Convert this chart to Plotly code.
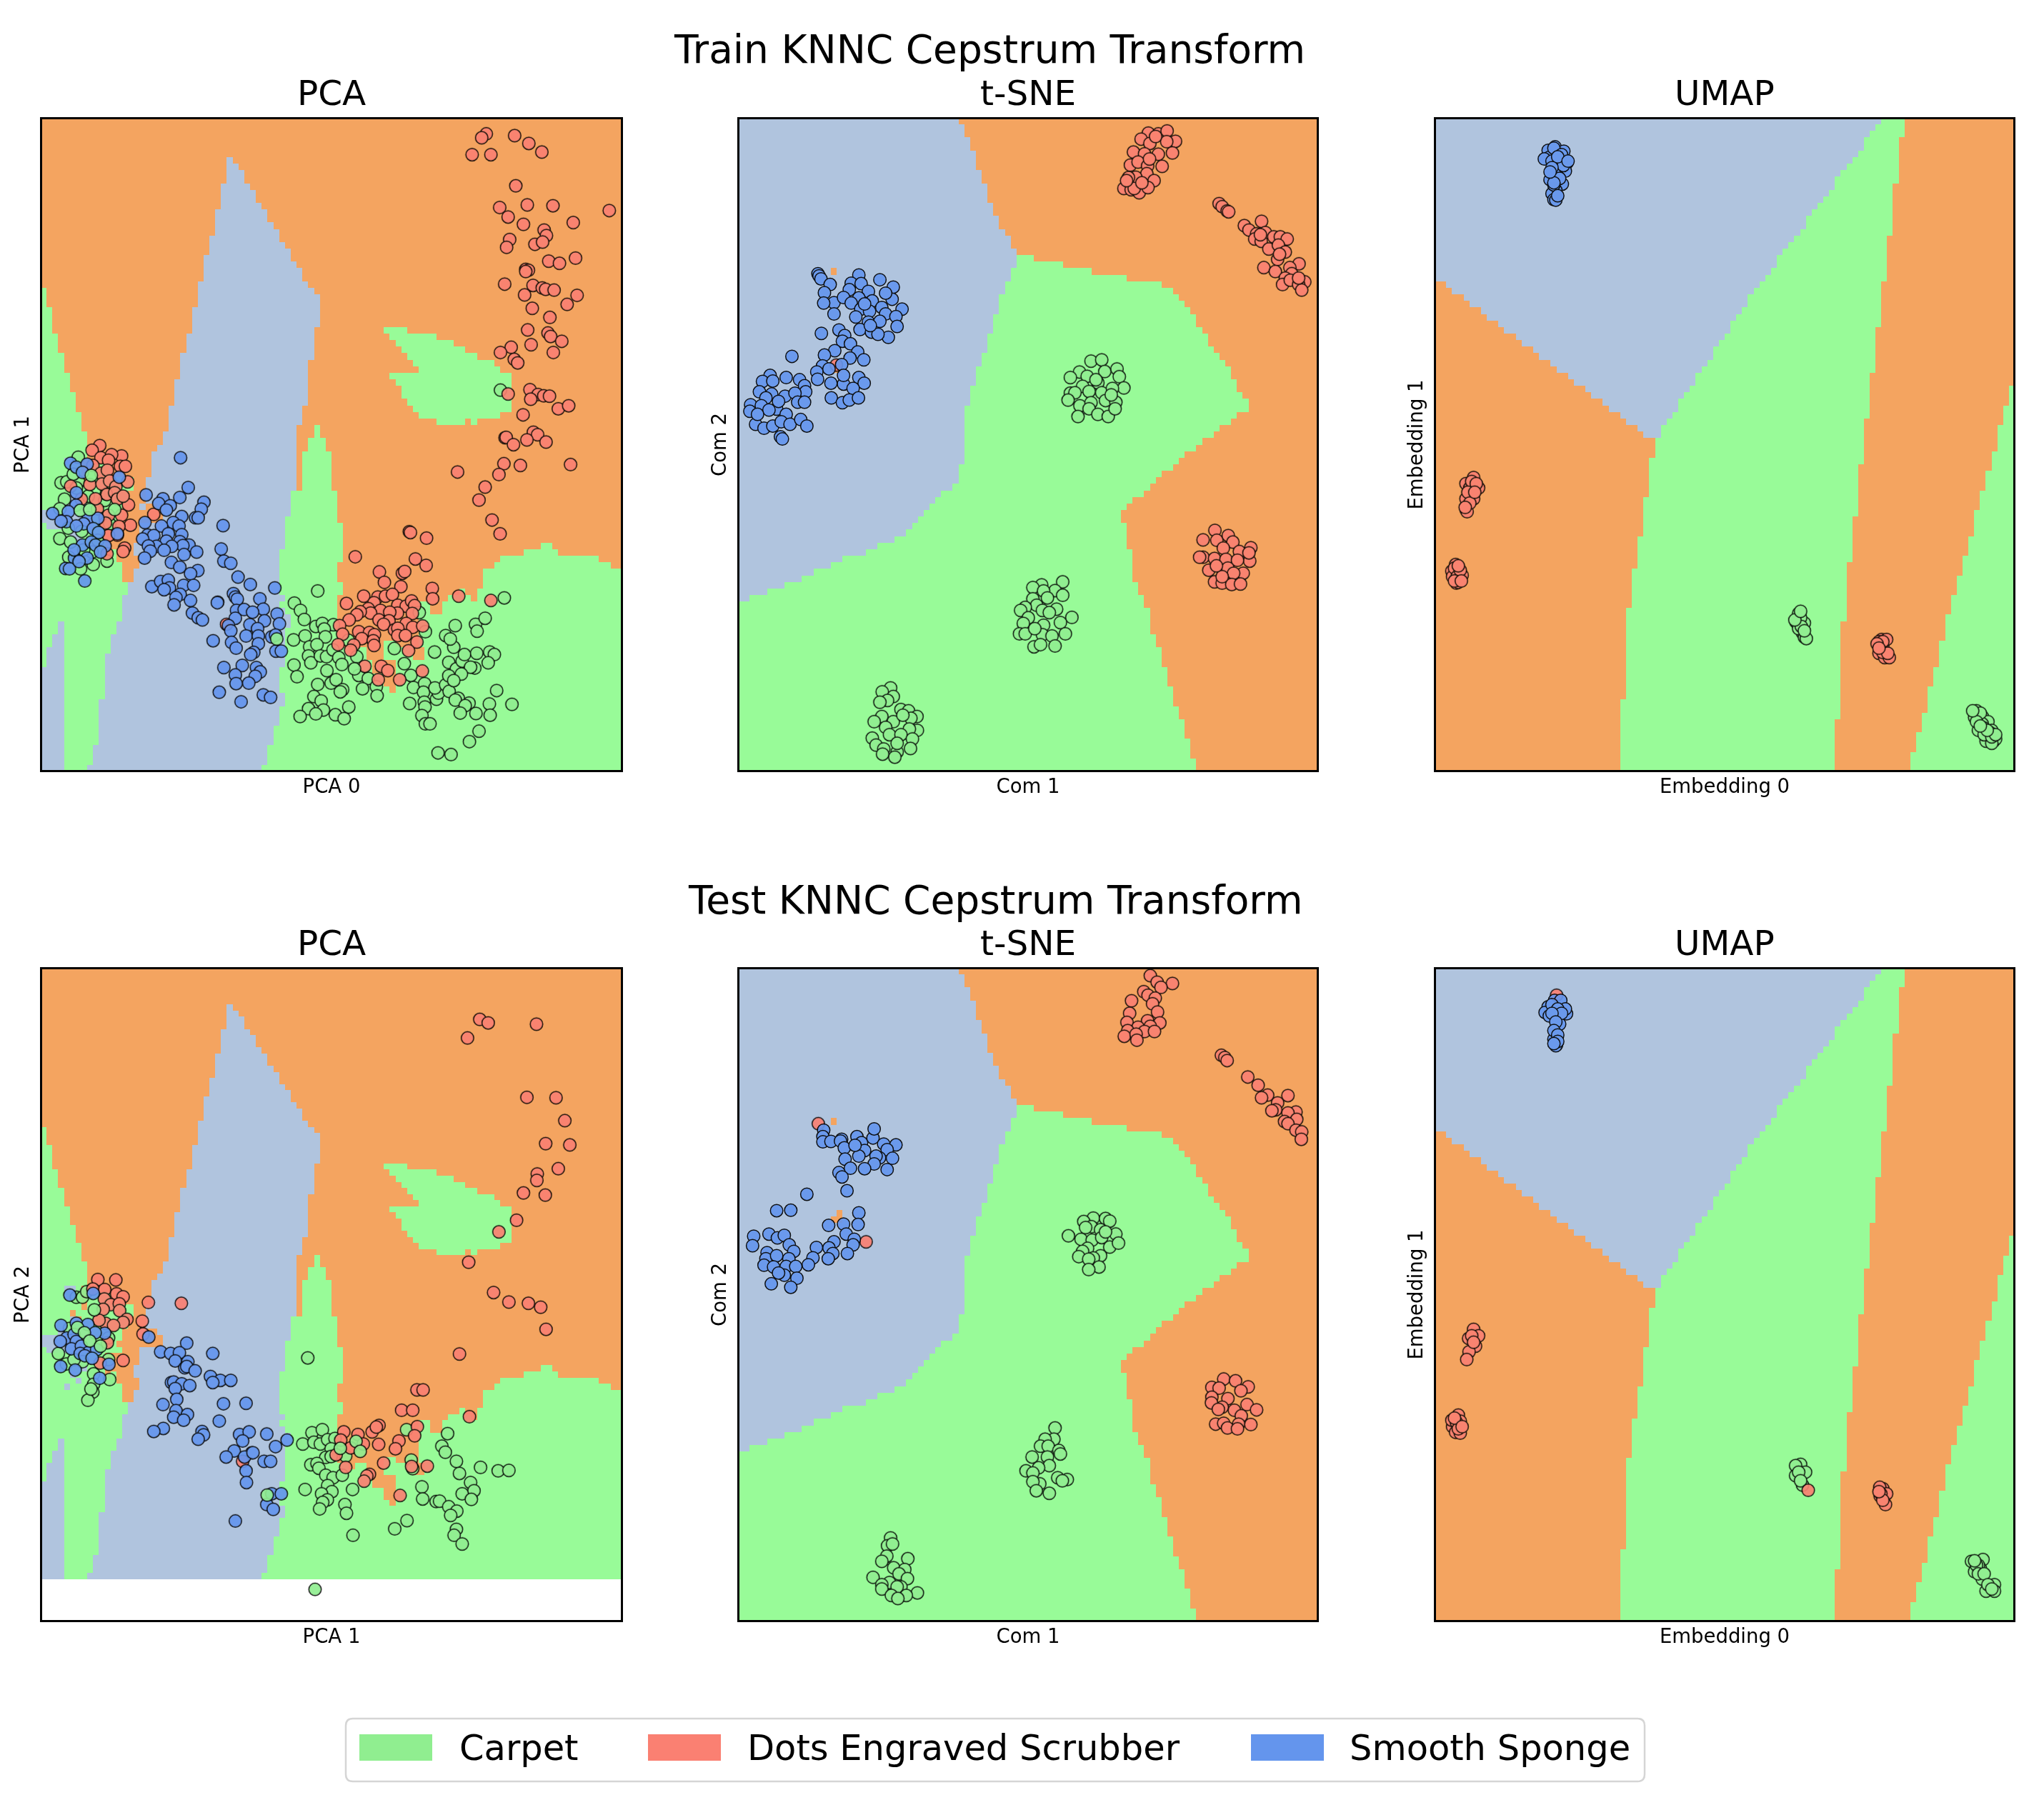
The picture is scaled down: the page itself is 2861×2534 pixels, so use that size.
import plotly.graph_objects as go
from plotly.subplots import make_subplots

# No ticks on the original axes, so values are plain read-off units of each panel.
CLASS_NAMES = ["Carpet", "Dots Engraved Scrubber", "Smooth Sponge"]
POINT_COLORS = ["#90EE90", "#FA8072", "#6495ED"]
REGION_COLORS = ["#98FB98", "#F4A460", "#B0C4DE"]

method_titles = ["PCA", "t-SNE", "UMAP"]
x_labels_train = ["PCA 0", "Com 1", "Embedding 0"]
y_labels_train = ["PCA 1", "Com 2", "Embedding 1"]
x_labels_test = ["PCA 1", "Com 1", "Embedding 0"]
y_labels_test = ["PCA 2", "Com 2", "Embedding 1"]
row_titles = ["Train KNNC Cepstrum Transform", "Test KNNC Cepstrum Transform"]

# decision regions, PCA: one string per mesh row, class letter + end column
pca_rows = (
    ["O100"] * 6
    + ["O32 B33 O100", "O32 B34 O100", "O32 B35 O100", "O32 B35 O100", "O31 B36 O100", "O31 B37 O100",
       "O31 B37 O100", "O31 B38 O100", "O30 B39 O100", "O30 B39 O100", "O30 B40 O100", "O30 B41 O100",
       "O29 B41 O100", "O29 B42 O100", "O29 B43 O100", "O28 B43 O100", "O28 B44 O100", "O28 B45 O100",
       "O28 B45 O100", "O27 B46 O100", "G1 O27 B47 O100", "G1 O27 B48 O100", "G1 O27 B48 O100",
       "G2 O26 B48 O100", "G2 O26 B48 O100", "G2 O26 B48 O100",
       "G2 O26 B47 O59 G63 O100", "G3 O25 B47 O60 G68 O100", "G3 O25 B47 O61 G71 O100",
       "G3 O25 B47 O62 G73 O100", "G4 O24 B47 O63 G75 O100", "G4 O24 B46 O64 G78 O100",
       "G4 O24 B46 O65 G79 O100", "G5 O24 B46 O60 G81 O100", "G5 O23 B46 O61 G81 O100",
       "G5 O23 B46 O62 G81 O100", "G6 O23 B46 O62 G81 O100", "G6 O23 B46 O63 G81 O100",
       "G6 O22 B45 O64 G81 O100", "G7 O22 B45 O65 G79 O100", "G7 O22 B45 O68 G73 O74 G75 O100",
       "G7 O22 B44 O47 G48 O100", "G8 O21 B44 O47 G48 O100", "G8 O21 B44 O46 G49 O100",
       "G8 O20 B44 O46 G49 O100", "G8 O19 B44 O45 G50 O100",
       "G4 B6 G7 O19 B44 O45 G50 O100", "G7 O8 G12 O19 B44 O45 G50 O100",
       "G7 O8 G12 O19 B44 O45 G50 O100", "G7 O8 G16 O18 B44 O45 G50 O100",
       "G5 O6 G16 O18 B44 O45 G50 O100", "G5 B6 O7 G15 O18 B43 G51 O100",
       "G5 B7 G15 O18 B43 G51 O100", "G3 B9 G14 O17 B18 O20 B43 G51 O100",
       "B9 G14 O21 B43 G51 O100", "B9 G13 O21 B42 G51 O100", "G1 B9 G14 O17 B42 G52 O100",
       "G5 B7 G11 O17 B42 G52 O100", "G5 B7 G11 O17 B42 G52 O100",
       "G7 B8 G11 O16 B42 G52 O86 G88 O100", "G5 B6 G11 O12 G13 O16 B41 G52 O83 G89 O100",
       "G6 B7 G13 O17 B41 G52 O79 G96 O100", "G4 B5 G14 O17 B41 G51 O78 G98 O100",
       "G14 O16 B41 G51 O76 G100", "G14 O16 B41 G51 O76 G100", "G15 B41 G52 O76 G100",
       "G15 B41 G52 O72 G73 O75 G100", "G14 B42 G51 O70 G74 O75 G100",
       "G14 B41 G51 O65 G67 O69 G100", "G14 B42 G51 O65 G67 O69 G100", "G14 B43 G51 O65 G100",
       "G3 B4 G13 B43 G51 O65 G100", "G3 B4 G13 B42 G51 O65 G100", "G2 B4 G12 B42 G51 O65 G100",
       "G2 B4 G12 B42 G51 O59 G61 O65 G100", "G1 B4 G12 B42 G53 O54 G56 O59 G64 O66 G100",
       "G1 B4 G11 B42 G56 O59 G64 O66 G100", "G1 B4 G11 B42 G57 O61 G100",
       "B4 G11 B41 G57 O61 G100", "B4 G11 B41 G59 O61 G100", "B4 G11 B41 G59 O61 G100",
       "B4 G11 B41 G60 O61 G100", "B4 G11 B42 G100", "B4 G10 B42 G100"]
    + ["B4 G10 B41 G100"] * 3
    + ["B4 G10 B40 G100"] * 3
    + ["B4 G9 B39 G100"] * 3
    + ["B4 G8 B38 G100"]
)

# decision regions, t-SNE: (first mesh row, column) steps of each boundary
tsne_blue_edge = [(0, 38), (1, 39), (3, 40), (5, 41), (8, 42), (10, 43), (13, 44), (15, 45), (17, 46), (18, 47),
                  (20, 48), (23, 47), (25, 46), (27, 45), (30, 44), (33, 43), (36, 42), (38, 41), (41, 40), (44, 39),
                  (53, 38), (56, 37), (57, 35), (58, 34), (59, 33), (60, 32), (61, 31), (62, 30), (63, 29), (64, 27),
                  (65, 24), (66, 22), (67, 18), (68, 16), (69, 13), (70, 11), (71, 8), (72, 5), (73, 2), (74, 0)]
tsne_green_right = [(0, 0), (21, 51), (22, 56), (23, 61), (24, 67), (25, 73), (26, 75), (27, 76), (28, 77), (29, 78),
                    (30, 79), (32, 80), (33, 81), (35, 82), (36, 83), (37, 84), (38, 85), (40, 86), (42, 87), (43, 88),
                    (45, 86), (46, 85), (47, 83), (48, 82), (49, 80), (50, 79), (51, 77), (52, 76), (53, 75), (54, 73),
                    (55, 72), (56, 71), (57, 70), (58, 68), (59, 67), (60, 66), (62, 67), (66, 68), (71, 69), (73, 70),
                    (75, 71), (79, 72), (81, 73), (84, 74), (87, 75), (90, 76), (92, 77), (95, 78), (98, 79)]
tsne_orange_cells = [(23, 16), (37, 17), (38, 16), (38, 17)]

# decision regions, UMAP
umap_orange_top = [(0, 25), (2, 26), (3, 27), (5, 28), (6, 29), (8, 30), (9, 31), (11, 32), (12, 33), (14, 34),
                   (15, 35), (17, 36), (18, 37), (20, 38), (21, 39), (23, 40), (24, 41), (26, 42), (27, 43), (29, 44),
                   (30, 45), (32, 46), (33, 47), (35, 48), (36, 49)]
umap_green_left = [(0, 77), (1, 76), (2, 75), (3, 74), (5, 73), (6, 72), (7, 71), (8, 70), (9, 69), (11, 68), (12, 67),
                   (13, 66), (14, 65), (15, 64), (17, 63), (18, 62), (19, 61), (20, 60), (21, 59), (23, 58), (24, 57),
                   (25, 56), (26, 55), (27, 54), (29, 53), (30, 52), (31, 51), (33, 50), (34, 49), (35, 48), (37, 47),
                   (38, 46), (39, 45), (41, 44), (42, 43), (43, 42), (45, 41), (46, 40), (47, 39), (49, 38), (52, 37),
                   (58, 36), (64, 35), (69, 34), (75, 33), (89, 32)]
umap_green_right = [(0, 81), (3, 80), (10, 79), (18, 78), (25, 77), (32, 76), (39, 75), (46, 74), (53, 73), (61, 72),
                    (68, 71), (77, 70), (92, 69)]
umap_corner_left = [(0, 100), (41, 99), (44, 98), (47, 97), (51, 96), (54, 95), (57, 94), (60, 93), (64, 92), (67, 91),
                    (70, 90), (73, 89), (76, 88), (80, 87), (84, 86), (87, 85), (91, 84), (94, 83), (97, 82)]

# points, train PCA
train_pca_carpet = [
    (130, 809), (85, 868), (100, 866), (131, 866), (117, 848), (156, 899), (94, 906), (82, 928),
    (199, 909), (203, 894), (212, 963), (104, 973), (139, 980), (82, 997), (110, 1005),
    (105, 1040), (169, 1057), (136, 1067), (205, 1049), (181, 1001), (166, 1028), (125, 880), (144, 1023),
    (755, 1118), (694, 1146), (710, 1163), (720, 1184), (692, 1231), (722, 1222), (750, 1200), (767, 1193), (796, 1196),
    (772, 1206), (775, 1224), (734, 1247), (753, 1242), (731, 1268), (737, 1284), (762, 1268), (778, 1270), (795, 1254),
    (810, 1272), (818, 1288), (835, 1232), (857, 1270), (693, 1289), (701, 1316), (779, 1302), (862, 1313),
    (887, 1320), (872, 1344), (908, 1339), (910, 1360), (755, 1334), (790, 1331), (803, 1323), (820, 1346), (814, 1351),
    (745, 1362), (764, 1372), (770, 1393), (731, 1390), (709, 1408), (750, 1402), (801, 1404), (824, 1413), (836, 1386),
    (981, 1286), (998, 1313), (1005, 1341), (1034, 1332), (1031, 1352), (995, 1378), (1033, 1375),
    (1035, 1386), (1027, 1406), (1036, 1425), (1048, 1425), (1065, 1368), (1070, 1354), (1061, 1342), (1089, 1335),
    (1098, 1350), (1122, 1366), (1114, 1370), (1150, 1377), (1140, 1383), (1168, 1401), (1127, 1400), (1203, 1379),
    (1205, 1405), (1262, 1380), (1222, 1348), (1176, 1442), (1151, 1466), (1097, 1283), (1117, 1298), (1132, 1280),
    (1138, 1265), (1170, 1262), (1204, 1259), (1216, 1265), (1200, 1284), (1165, 1296), (1154, 1294), (1130, 1310),
    (1097, 1314), (1110, 1325), (1089, 1221), (1110, 1248), (1101, 1229), (1060, 1259), (1114, 1198), (1167, 1195),
    (1171, 1211), (1192, 1181), (1242, 1134), (1036, 1212), (1020, 1168), (1069, 1492), (1103, 1496), (1232, 654),
]
train_pca_carpet_top = [(164, 851), (135, 932), (160, 930), (225, 930), (851, 1298), (955, 1251), (648, 1229)]
train_pca_scrubber = [
    (1195, 62), (1183, 71), (1269, 66), (1306, 84), (1340, 104), (1158, 110), (1207, 110), (1272, 182), (1230, 232),
    (1302, 226), (1369, 228), (1516, 239), (1252, 254), (1292, 271), (1422, 267), (1346, 284), (1352, 297), (1256, 306),
    (1248, 324), (1322, 317), (1342, 312), (1358, 356), (1386, 361), (1428, 349), (1298, 375), (1305, 377), (1298, 380),
    (1243, 409), (1317, 412), (1341, 418), (1350, 421), (1372, 423), (1295, 434), (1432, 435), (1406, 456), (1315, 465),
    (1361, 486), (1303, 515), (1356, 522), (1363, 530), (1392, 541), (1312, 549), (1260, 555), (1232, 567), (1370, 567),
    (1268, 583), (1277, 591), (1252, 663), (1309, 653), (1330, 664), (1345, 667), (1360, 668), (1311, 675), (1383, 697),
    (1410, 690), (1291, 711), (1318, 751), (1329, 757), (1244, 764), (1247, 763), (1301, 769), (1351, 774), (1266, 780),
    (1241, 824), (1284, 828), (1415, 826), (1120, 843), (1228, 849), (1192, 878), (1176, 908), (1210, 954), (1231, 986),
    (994, 981), (997, 983), (1039, 996), (1010, 1044), (1038, 1059), (853, 1039), (916, 1074), (976, 1077), (982, 1073),
    (929, 1098), (972, 1108), (1054, 1112), (1055, 1136), (1123, 1130), (1207, 1140),
    (875, 1130), (912, 1132), (932, 1130), (950, 1126), (830, 1147), (902, 1145), (887, 1159), (919, 1163), (964, 1151),
    (986, 1153), (1000, 1141), (1008, 1152), (1002, 1170), (963, 1169), (943, 1167), (893, 1169), (866, 1166), (857, 1173),
    (837, 1185), (915, 1185), (941, 1187), (927, 1195), (986, 1193), (1003, 1202), (1029, 1199), (955, 1208), (964, 1204),
    (964, 1221), (984, 1221), (812, 1198), (820, 1218), (862, 1212), (890, 1214), (903, 1219), (870, 1228), (900, 1233),
    (902, 1244), (849, 1243), (841, 1255), (808, 1242), (1014, 1236), (992, 1256), (878, 1292), (921, 1292), (938, 1302),
    (913, 1323), (969, 1323), (1028, 1303), (517, 1195),
    (186, 782), (166, 793), (243, 806), (189, 810), (217, 803), (209, 816), (168, 828), (240, 830), (253, 830), (189, 846),
    (206, 839), (160, 872), (192, 871), (110, 876), (212, 864), (259, 866), (228, 877), (205, 895), (225, 891), (232, 906),
    (261, 919), (247, 899), (180, 928), (243, 943), (200, 949), (209, 943), (266, 966), (201, 961), (236, 969), (232, 989),
    (209, 990), (251, 1019), (247, 1027), (205, 1032), (175, 905), (138, 906), (327, 941),
]
train_pca_sponge = [
    (397, 810), (417, 879), (307, 896), (351, 905), (395, 902), (340, 916), (370, 921), (360, 931), (458, 913), (451, 929),
    (436, 949), (443, 949), (400, 946), (304, 960), (378, 960), (347, 968), (393, 968), (508, 967), (311, 989), (327, 990),
    (365, 986), (400, 988), (298, 998), (360, 1003), (395, 1004), (419, 1012), (334, 1015), (313, 1014), (403, 1013),
    (374, 1015), (318, 1026), (354, 1024), (439, 1028), (406, 1034), (503, 1021), (303, 1042), (510, 1049), (528, 1054),
    (373, 1052), (395, 1063), (442, 1071), (423, 1078), (547, 1086), (579, 1103), (322, 1108), (345, 1096), (365, 1093),
    (368, 1111), (354, 1115), (405, 1105), (431, 1105), (396, 1126), (385, 1133), (423, 1140), (380, 1150), (428, 1169),
    (443, 1180), (454, 1185), (494, 1144),
    (110, 823), (125, 832), (153, 825), (141, 844), (237, 855), (125, 891), (124, 920), (63, 939), (104, 935), (99, 958),
    (85, 957), (156, 949), (181, 950), (144, 963), (125, 968), (169, 974), (183, 983), (232, 986), (141, 1012), (164, 1005),
    (175, 1012), (200, 1014), (188, 1028), (120, 1042), (153, 1042), (97, 1066), (107, 1067), (147, 1095), (119, 1023),
    (132, 1050),
    (643, 1111), (604, 1136), (535, 1124), (540, 1132), (545, 1137), (493, 1145), (543, 1163), (563, 1161), (613, 1160),
    (585, 1167), (649, 1171), (540, 1181), (616, 1187), (655, 1194), (578, 1196), (522, 1198), (528, 1210), (598, 1205),
    (635, 1224), (645, 1220), (482, 1233), (530, 1237), (568, 1222), (600, 1222), (542, 1250), (600, 1240), (646, 1257),
    (660, 1257), (588, 1260), (580, 1265), (510, 1295), (558, 1290), (595, 1295), (605, 1305), (592, 1315), (540, 1312),
    (542, 1332), (575, 1331), (498, 1352), (613, 1358), (632, 1364), (555, 1374),
]

# points, train t-SNE
train_tsne_carpet = [
    (947, 587), (975, 584), (917, 612), (893, 625), (983, 611), (1015, 605), (1021, 623), (965, 637), (937, 622), (925, 645),
    (1033, 649), (893, 661), (905, 660), (942, 657), (975, 660), (1003, 650), (887, 677), (918, 690), (947, 683), (985, 678),
    (1012, 682), (942, 697), (913, 715), (965, 710), (992, 715), (1010, 697), (960, 630), (1000, 665),
    (873, 1097), (818, 1104), (795, 1110), (853, 1117), (873, 1128), (823, 1118), (833, 1134), (795, 1136), (805, 1151),
    (775, 1156), (820, 1163), (857, 1160), (838, 1168), (763, 1163), (897, 1179), (783, 1180), (867, 1191), (770, 1193),
    (823, 1197), (760, 1217), (775, 1217), (880, 1217), (820, 1219), (845, 1222), (798, 1247), (853, 1245), (815, 1242),
    (800, 1205),
    (423, 1342), (401, 1351), (430, 1362), (415, 1371), (395, 1375), (450, 1392), (470, 1395), (400, 1408), (492, 1408),
    (476, 1412), (380, 1420), (430, 1420), (410, 1433), (493, 1440), (472, 1437), (375, 1458), (385, 1474), (420, 1450),
    (450, 1450), (480, 1460), (405, 1483), (475, 1482), (440, 1490), (434, 1502), (402, 1495), (440, 1470), (455, 1405),
]
train_tsne_scrubber = [
    (1097, 60), (1123, 62), (1146, 55), (1168, 79), (1078, 74), (1101, 84), (1145, 80), (1160, 106), (1058, 104), (1087, 108),
    (1123, 109), (1133, 137), (1050, 134), (1070, 127), (1095, 136), (1093, 154), (1064, 162), (1045, 163), (1112, 170),
    (1033, 188), (1052, 191), (1073, 198), (1096, 186), (1060, 188), (1116, 68), (1040, 170), (1080, 175), (1100, 120),
    (1282, 223), (1290, 230), (1303, 240), (1307, 242), (1393, 264), (1348, 274), (1360, 284), (1380, 293), (1403, 290),
    (1425, 300), (1442, 300), (1460, 305), (1375, 305), (1392, 310), (1412, 328), (1437, 319), (1455, 335), (1435, 352),
    (1491, 362), (1399, 371), (1429, 380), (1467, 371), (1472, 385), (1455, 395), (1448, 410), (1468, 400), (1506, 404),
    (1490, 410), (1498, 423), (1490, 395), (1440, 340), (1390, 295),
    (1271, 978), (1276, 1001), (1240, 1000), (1306, 990), (1318, 1005), (1365, 1018), (1335, 1027), (1293, 1019), (1240, 1040),
    (1270, 1043), (1231, 1040), (1300, 1045), (1362, 1049), (1330, 1047), (1360, 1030), (1305, 1065), (1255, 1070), (1345, 1077),
    (1320, 1077), (1270, 1097), (1290, 1100), (1315, 1103), (1338, 1102), (1290, 1085), (1275, 1060), (281, 596),
]
train_tsne_sponge = [
    (233, 385), (236, 390), (241, 397), (265, 410), (250, 429), (275, 452), (248, 453), (275, 478), (340, 388), (320, 407),
    (346, 408), (395, 399), (430, 416), (315, 422), (365, 426), (340, 441), (300, 440), (320, 453), (375, 448), (427, 444),
    (400, 463), (453, 467), (345, 467), (368, 472), (410, 478), (332, 485), (437, 484), (365, 497), (395, 495), (343, 514),
    (373, 520), (440, 507), (417, 532), (390, 525), (370, 505), (410, 430), (355, 455),
    (242, 523), (288, 515), (303, 528), (297, 541), (318, 547), (277, 563), (250, 573), (337, 566), (353, 584), (317, 580),
    (295, 595), (245, 598), (230, 612), (340, 625), (354, 638), (300, 640), (267, 638), (232, 629), (325, 650), (268, 672),
    (297, 683), (315, 677), (339, 672), (165, 576), (300, 620), (262, 605),
    (108, 620), (88, 634), (115, 633), (150, 625), (185, 630), (198, 644), (201, 658), (80, 658), (112, 663), (147, 668),
    (173, 661), (97, 672), (57, 688), (125, 698), (180, 682), (198, 682), (55, 703), (85, 690), (150, 710), (70, 733),
    (92, 742), (115, 737), (137, 727), (160, 733), (188, 722), (204, 737), (135, 762), (140, 767), (105, 700), (130, 680),
    (75, 710),
]

# points, train UMAP
train_umap_carpet = [
    (985, 1170), (978, 1190), (1000, 1192), (995, 1215), (1000, 1225), (985, 1205), (1005, 1228), (990, 1180), (992, 1200),
    (1000, 1210), (975, 1185), (990, 1165),
    (1450, 1395), (1465, 1408), (1445, 1410), (1480, 1420), (1455, 1440), (1490, 1440), (1480, 1452), (1475, 1465),
    (1495, 1465), (1500, 1460), (1465, 1425), (1490, 1470), (1460, 1400), (1450, 1420), (1470, 1435), (1485, 1445),
    (1470, 1450), (1490, 1455), (1500, 1450), (1478, 1440), (1440, 1395), (1460, 1430),
]
train_umap_scrubber = [
    (135, 856), (140, 875), (115, 870), (125, 892), (115, 905), (135, 905), (115, 930), (118, 935), (148, 880),
    (125, 880), (130, 865), (120, 890), (142, 870), (125, 915), (113, 925), (138, 890),
    (88, 1057), (78, 1072), (95, 1077), (105, 1082), (80, 1085), (90, 1100), (95, 1098), (85, 1065), (92, 1085),
    (100, 1070), (85, 1095), (95, 1060), (103, 1095),
    (1202, 1230), (1195, 1235), (1205, 1245), (1215, 1230), (1195, 1262), (1210, 1272), (1222, 1272), (1200, 1250),
    (1205, 1235), (1205, 1260), (1218, 1262), (1190, 1240), (1195, 1250),
]
train_umap_sponge = [
    (348, 92), (371, 102), (330, 100), (350, 105), (333, 116), (380, 128), (350, 134), (320, 120), (375, 148), (353, 158),
    (335, 168), (367, 178), (350, 192), (340, 200), (345, 214), (350, 215), (360, 120), (345, 150), (345, 95), (365, 110),
    (340, 125), (370, 135), (355, 115), (340, 140), (360, 165), (345, 180), (355, 205), (345, 175), (335, 150), (382, 125),
]

# points, test PCA
test_pca_carpet = [
    (125, 786), (141, 786), (152, 773), (209, 880), (99, 940), (141, 935), (209, 930), (212, 976), (170, 963), (170, 987),
    (168, 1005), (155, 1024), (163, 998), (107, 858), (119, 930), (78, 916),
    (729, 926), (740, 1099), (767, 1092), (716, 1125), (745, 1121), (762, 1125), (781, 1115), (800, 1112),
    (790, 1136), (828, 1153), (776, 1156), (790, 1154), (737, 1173), (753, 1170), (758, 1181),
    (776, 1197), (795, 1203), (819, 1197), (781, 1221), (722, 1230), (846, 1230), (792, 1235), (765, 1240), (780, 1254),
    (768, 1260), (760, 1275), (826, 1265), (830, 1285), (847, 1336), (956, 1321), (988, 1302), (987, 1092), (1094, 1101),
    (1079, 1130), (1088, 1144), (1117, 1165), (1125, 1193), (999, 1162), (1003, 1182), (1180, 1179), (1226, 1187), (1254, 1186),
    (1027, 1224), (1029, 1252), (1064, 1258), (1073, 1257), (1097, 1270), (1118, 1280), (1102, 1290), (1154, 1214), (1163, 1233),
    (1132, 1240), (1156, 1253), (1117, 1322), (1111, 1336), (1132, 1356), (748, 1461),
]
test_pca_carpet_top = [(172, 815), (128, 856), (146, 868), (160, 887), (188, 899), (855, 1119), (866, 1142), (814, 1135),
                       (623, 1243)]
test_pca_scrubber = [
    (1178, 144), (1200, 152), (1326, 155), (1146, 187), (1301, 324), (1377, 325), (1400, 378), (1350, 431), (1413, 434),
    (1383, 489), (1328, 501), (1327, 516), (1292, 545), (1349, 550), (1274, 608), (1228, 635), (1149, 705), (1214, 775),
    (1254, 797), (1305, 800), (1337, 809), (1351, 860), (1125, 917), (1014, 1000), (1030, 1000), (974, 1047), (1003, 1047),
    (1151, 1062),
    (823, 1097), (860, 1103), (897, 1097), (915, 1082), (908, 1086), (874, 1125), (914, 1126), (967, 1118), (958, 1136),
    (1015, 1085), (1008, 1106), (841, 1134), (815, 1116), (927, 1169), (828, 1179), (1041, 1176), (890, 1195), (883, 1199),
    (876, 1211), (970, 1244), (1000, 1177), (803, 1150),
    (181, 745), (228, 746), (168, 767), (199, 768), (230, 778), (247, 785), (198, 790), (215, 803), (237, 801), (195, 814),
    (238, 817), (313, 798), (399, 800), (297, 841), (257, 837), (247, 844), (201, 846), (222, 851), (184, 839), (299, 871),
    (247, 932), (187, 938), (559, 1165), (206, 891),
]
test_pca_sponge = [
    (108, 781), (169, 777), (85, 851), (125, 846), (155, 849), (199, 869), (174, 868), (100, 880), (83, 888), (119, 872),
    (125, 888), (112, 905), (138, 899), (155, 914), (135, 916), (147, 921), (178, 907), (166, 927), (210, 941), (84, 946),
    (122, 954), (186, 973), (314, 878),
    (413, 892), (345, 912), (371, 916), (394, 914), (383, 933), (481, 916), (416, 935), (408, 949), (413, 946), (435, 956),
    (475, 969), (501, 978), (528, 978), (481, 983), (373, 983), (379, 982), (400, 986), (421, 990), (383, 997), (387, 1022),
    (351, 1034), (509, 1032), (568, 1031), (385, 1048), (415, 1057), (379, 1063), (405, 1070), (498, 1072), (352, 1089),
    (327, 1096), (453, 1096), (457, 1104), (443, 1114), (551, 1103), (576, 1097), (559, 1118), (537, 1141), (516, 1155),
    (583, 1145), (568, 1187), (564, 1155), (622, 1102), (586, 1145), (615, 1165), (632, 1165), (645, 1131), (675, 1116),
    (569, 1214), (635, 1240), (660, 1240), (622, 1265), (639, 1276), (540, 1303),
]

# points, test t-SNE
test_tsne_carpet = [
    (953, 603), (985, 604), (928, 611), (996, 610), (948, 623), (933, 625), (972, 630), (1012, 640), (888, 644), (921, 652),
    (950, 654), (975, 648), (996, 670), (1019, 661), (938, 673), (925, 680), (915, 692), (972, 690), (953, 695), (941, 698),
    (968, 716), (941, 722), (985, 635),
    (853, 1088), (850, 1114), (827, 1114), (815, 1130), (835, 1130), (863, 1140), (867, 1148), (833, 1155), (793, 1155),
    (838, 1175), (810, 1180), (777, 1187), (795, 1192), (860, 1203), (885, 1207), (872, 1210), (813, 1217), (795, 1212),
    (804, 1233), (838, 1239),
    (423, 1342), (415, 1360), (428, 1356), (413, 1384), (400, 1396), (468, 1390), (431, 1411), (460, 1415), (445, 1425),
    (467, 1436), (377, 1433), (420, 1445), (400, 1450), (450, 1455), (400, 1460), (440, 1455), (493, 1469), (425, 1475),
    (464, 1475), (442, 1482),
]
test_tsne_scrubber = [
    (1102, 43), (1120, 58), (1160, 61), (1130, 70), (1085, 80), (1096, 88), (1115, 95), (1053, 101), (1108, 108), (1121, 127),
    (1048, 130), (1095, 147), (1041, 151), (1127, 152), (1102, 160), (1070, 162), (1043, 170), (1087, 172), (1113, 172),
    (1034, 183), (1065, 178), (1067, 192),
    (1288, 227), (1297, 232), (1303, 239), (1357, 277), (1384, 296), (1409, 319), (1393, 325), (1462, 320), (1435, 337),
    (1430, 353), (1420, 355), (1483, 358), (1462, 360), (1485, 375), (1453, 380), (1462, 385), (1483, 400), (1498, 404),
    (1497, 421),
    (1294, 975), (1325, 979), (1263, 994), (1282, 996), (1358, 993), (1339, 1002), (1263, 1017), (1305, 1020), (1262, 1030),
    (1290, 1040), (1355, 1034), (1322, 1047), (1380, 1046), (1280, 1045), (1340, 1060), (1273, 1079), (1294, 1077), (1333, 1079),
    (1365, 1080), (1304, 1088), (1330, 1090), (359, 658), (234, 385),
]
test_tsne_sponge = [
    (248, 400), (246, 415), (246, 427), (267, 426), (295, 421), (292, 425), (302, 441), (335, 415), (347, 429), (377, 418),
    (380, 397), (405, 432), (437, 434), (414, 445), (355, 447), (340, 460), (304, 467), (394, 464), (385, 460), (428, 465),
    (380, 478), (318, 488), (355, 489), (414, 491), (288, 498), (296, 508), (309, 540), (330, 435),
    (204, 548), (125, 586), (162, 585), (340, 591), (338, 618), (261, 620), (300, 617), (307, 640), (328, 652), (325, 665),
    (275, 658), (262, 672), (272, 685), (260, 697), (310, 685), (229, 671), (220, 695), (208, 711),
    (65, 645), (62, 667), (105, 640), (127, 649), (145, 643), (158, 665), (100, 683), (170, 680), (97, 697), (157, 697),
    (125, 690), (92, 712), (117, 716), (150, 715), (175, 715), (145, 735), (130, 730), (178, 742), (111, 755), (162, 763),
]

# points, test UMAP
test_umap_carpet = [
    (990, 1172), (977, 1175), (1003, 1190), (977, 1198), (995, 1220), (985, 1190), (990, 1210),
    (1437, 1396), (1467, 1392), (1460, 1413), (1445, 1420), (1465, 1437), (1497, 1450), (1475, 1465), (1497, 1465), (1455, 1405),
    (1450, 1405), (1455, 1425), (1470, 1425), (1480, 1450), (1490, 1460), (1445, 1395),
]
test_umap_scrubber = [
    (352, 88), (135, 860), (148, 875), (122, 881), (140, 899), (123, 912), (117, 930), (130, 875), (135, 890),
    (95, 1058), (100, 1072), (80, 1085), (88, 1098), (100, 1100), (78, 1070), (90, 1075), (95, 1090), (85, 1065), (105, 1085),
    (1010, 1232), (1205, 1228), (1197, 1225), (1198, 1245), (1212, 1265), (1215, 1240), (1200, 1240), (1205, 1255), (1195, 1235),
]
test_umap_sponge = [
    (347, 100), (363, 100), (330, 115), (378, 131), (322, 128), (352, 138), (333, 136), (360, 155), (350, 185), (345, 190),
    (352, 203), (350, 205), (375, 120), (340, 110), (355, 120), (365, 130), (340, 130), (350, 150), (345, 170), (355, 180),
    (355, 195), (345, 200),
]

CLASS_CODE = {"G": 0, "O": 1, "B": 2}
ORANGE = 1
# the browser keeps its default 8px body margin, so the figure is that much smaller
PAGE_MARGIN = 8
FIG_W, FIG_H = 2861 - PAGE_MARGIN, 2534 - PAGE_MARGIN
# plotly draws the frame just outside the plot area
FRAME_INSET = 1.8


def px(v):
    return (v - PAGE_MARGIN) / FIG_W


def py(v):
    return 1 - (v - PAGE_MARGIN) / FIG_H


def expand_steps(steps, n=100):
    """(first index, value) pairs -> one value per index"""
    out = []
    for i, (start, value) in enumerate(steps):
        stop = steps[i + 1][0] if i + 1 < len(steps) else n
        out += [value] * (stop - start)
    return out


def pca_grid():
    grid = []
    for spec in pca_rows:
        row, start = [], 0
        for token in spec.split():
            end = int(token[1:])
            row += [CLASS_CODE[token[0]]] * (end - start)
            start = end
        grid.append(row)
    return grid


def tsne_grid():
    blue = expand_steps(tsne_blue_edge)
    green = expand_steps(tsne_green_right)
    grid = []
    for r in range(100):
        grid.append([2 if c < blue[r] else 0 if c < green[r] else 1 for c in range(100)])
    for r, c in tsne_orange_cells:
        grid[r][c] = ORANGE
    return grid


def umap_grid():
    top = expand_steps(umap_orange_top)
    left = expand_steps(umap_green_left)
    right = expand_steps(umap_green_right)
    corner = expand_steps(umap_corner_left)
    grid = []
    for r in range(100):
        row = []
        for c in range(100):
            if c < left[r]:
                row.append(2 if r < top[c] else 1)
            elif c < right[r]:
                row.append(0)
            else:
                row.append(0 if c >= corner[r] else 1)
        grid.append(row)
    return grid


# panel boxes on the page
col_boxes = [(57, 871), (1033, 1845), (2008, 2820)]
row_boxes = [(165, 1080), (1355, 2270)]
# read-off extent of every panel
x_extents = [(32, 1550), (24, 1541), (33, 1550)]
y_extent = (25, 1535)

fig = make_subplots(rows=2, cols=3, subplot_titles=method_titles * 2)

grids = [pca_grid(), tsne_grid(), umap_grid()]
panel_points = [
    [(train_pca_carpet, train_pca_scrubber, train_pca_sponge),
     (train_tsne_carpet, train_tsne_scrubber, train_tsne_sponge),
     (train_umap_carpet, train_umap_scrubber, train_umap_sponge)],
    [(test_pca_carpet, test_pca_scrubber, test_pca_sponge),
     (test_tsne_carpet, test_tsne_scrubber, test_tsne_sponge),
     (test_umap_carpet, test_umap_scrubber, test_umap_sponge)],
]
# the few carpet points that sit on top of the others in the original
panel_top_points = {(0, 0): train_pca_carpet_top, (1, 0): test_pca_carpet_top}
region_scale = [[0, REGION_COLORS[0]], [0.33, REGION_COLORS[0]], [0.33, REGION_COLORS[1]],
                [0.67, REGION_COLORS[1]], [0.67, REGION_COLORS[2]], [1, REGION_COLORS[2]]]
x_labels = [x_labels_train, x_labels_test]
y_labels = [y_labels_train, y_labels_test]


def add_points(pts, k, r, c):
    fig.add_trace(go.Scatter(x=[p[0] for p in pts], y=[p[1] for p in pts], mode="markers",
                             name=CLASS_NAMES[k], showlegend=False, opacity=0.92,
                             marker=dict(color=POINT_COLORS[k], size=17.5,
                                         line=dict(color="black", width=1.5))),
                  row=r + 1, col=c + 1)


for r in range(2):
    for c in range(3):
        x_lo, x_hi = x_extents[c]
        dx = (x_hi - x_lo) / 100
        # test PCA mesh stops short of the lower axis limit
        dy = 14.12 if (r == 1 and c == 0) else (y_extent[1] - y_extent[0]) / 100
        fig.add_trace(go.Heatmap(z=grids[c], x0=x_lo + dx / 2, dx=dx, y0=y_extent[0] + dy / 2, dy=dy,
                                 colorscale=region_scale, zmin=0, zmax=2, showscale=False, hoverinfo="skip"),
                      row=r + 1, col=c + 1)
        for k, pts in enumerate(panel_points[r][c]):
            add_points(pts, k, r, c)
        if (r, c) in panel_top_points:
            add_points(panel_top_points[(r, c)], 0, r, c)
        # inset the domain and trim the range alike so the points keep their place
        x_trim = FRAME_INSET * (x_hi - x_lo) / (col_boxes[c][1] - col_boxes[c][0])
        y_trim = FRAME_INSET * (y_extent[1] - y_extent[0]) / (row_boxes[r][1] - row_boxes[r][0])
        fig.update_xaxes(domain=[px(col_boxes[c][0] + FRAME_INSET), px(col_boxes[c][1] - FRAME_INSET)],
                         range=[x_lo + x_trim, x_hi - x_trim],
                         showgrid=False, zeroline=False, showticklabels=False, ticks="",
                         showline=True, mirror=True, linecolor="black", linewidth=2.8,
                         title=dict(text=x_labels[r][c], standoff=11,
                                    font=dict(size=27.5, color="black")),
                         row=r + 1, col=c + 1)
        fig.update_yaxes(domain=[py(row_boxes[r][1] - FRAME_INSET), py(row_boxes[r][0] + FRAME_INSET)],
                         range=[y_extent[1] - y_trim, y_extent[0] + y_trim],
                         showgrid=False, zeroline=False, showticklabels=False, ticks="",
                         showline=True, mirror=True, linecolor="black", linewidth=2.8,
                         title=dict(text=y_labels[r][c], standoff=8,
                                    font=dict(size=27.5, color="black")),
                         row=r + 1, col=c + 1)

# subplot titles made by make_subplots, moved onto the real panel boxes
for ann, (r, c) in zip(fig.layout.annotations, [(r, c) for r in range(2) for c in range(3)]):
    ann.x = px(sum(col_boxes[c]) / 2)
    ann.y = py(row_boxes[r][0])
    ann.yanchor = "bottom"
    ann.yshift = 5
    ann.font = dict(size=48.5, color="black")

for text, x_px, y_px in zip(row_titles, [1385, 1393], [69, 1260]):
    fig.add_annotation(text=text, xref="paper", yref="paper", x=px(x_px), y=py(y_px),
                       xanchor="center", yanchor="middle", showarrow=False,
                       font=dict(size=55, color="black"))

# legend box along the bottom
x0, x1, y0, y1, rad = 484, 2302, 2406, 2494, 10
frame = (f"M {px(x0 + rad)} {py(y0)} L {px(x1 - rad)} {py(y0)} Q {px(x1)} {py(y0)} {px(x1)} {py(y0 + rad)} "
         f"L {px(x1)} {py(y1 - rad)} Q {px(x1)} {py(y1)} {px(x1 - rad)} {py(y1)} "
         f"L {px(x0 + rad)} {py(y1)} Q {px(x0)} {py(y1)} {px(x0)} {py(y1 - rad)} "
         f"L {px(x0)} {py(y0 + rad)} Q {px(x0)} {py(y0)} {px(x0 + rad)} {py(y0)} Z")
fig.add_shape(type="path", path=frame, xref="paper", yref="paper", line=dict(color="#D5D5D5", width=2.5),
              fillcolor="white")
legend_swatches = [(503, 605), (907, 1009), (1751, 1853)]
legend_text_x = [641, 1044, 1887]
for k in range(3):
    fig.add_shape(type="rect", xref="paper", yref="paper", x0=px(legend_swatches[k][0]), x1=px(legend_swatches[k][1]),
                  y0=py(2428), y1=py(2465), line_width=0, fillcolor=POINT_COLORS[k])
    fig.add_annotation(text=CLASS_NAMES[k], xref="paper", yref="paper", x=px(legend_text_x[k]), y=py(2447),
                       xanchor="left", yanchor="middle", showarrow=False, font=dict(size=49.5, color="black"))

fig.update_layout(width=FIG_W, height=FIG_H, margin=dict(l=0, r=0, t=0, b=0), paper_bgcolor="white",
                  plot_bgcolor="white", showlegend=False, font=dict(family="DejaVu Sans", color="black"))

fig.write_html("out.html")
